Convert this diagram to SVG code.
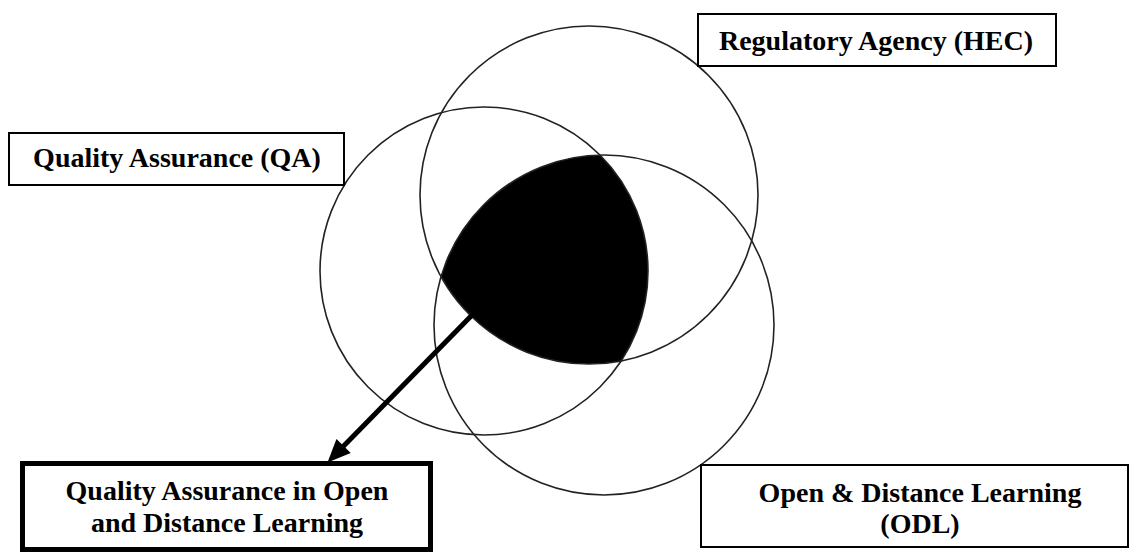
<svg xmlns="http://www.w3.org/2000/svg" width="1135" height="552" viewBox="0 0 1135 552">
<style>
.circ{fill:none;stroke:#222;stroke-width:1.6}
.box{fill:#fff;stroke:#000;stroke-width:2}
.boxb{fill:#fff;stroke:#000;stroke-width:5}
.lbl{font-family:"Liberation Serif","Times New Roman",serif;font-weight:bold;font-size:28px;fill:#000;text-anchor:middle}
.conn{stroke:#000;stroke-width:5;fill:none}
</style>
<defs>
<clipPath id="clipHEC"><circle cx="589" cy="195" r="169"/></clipPath>
<clipPath id="clipODL"><circle cx="604" cy="325" r="170"/></clipPath>
<marker id="arrow" markerUnits="userSpaceOnUse" markerWidth="26" markerHeight="22" refX="8" refY="10" orient="auto" overflow="visible">
<path d="M0,0 L23,10 L0,20 z" fill="#000"/>
</marker>
</defs>
<g id="intersection">
<g clip-path="url(#clipHEC)">
<circle cx="484" cy="271" r="164" fill="#000" clip-path="url(#clipODL)"/>
</g>
</g>
<g id="circles">
<circle id="circle-qa" class="circ" cx="484" cy="271" r="164"/>
<circle id="circle-hec" class="circ" cx="589" cy="195" r="169"/>
<circle id="circle-odl" class="circ" cx="604" cy="325" r="170"/>
</g>
<g id="connectors">
<line class="conn" x1="476" y1="311" x2="338" y2="451.8" marker-end="url(#arrow)"/>
</g>
<g id="node-hec">
<rect class="box" x="698" y="14" width="358" height="52"/>
<text class="lbl" x="876" y="50">Regulatory Agency (HEC)</text>
</g>
<g id="node-qa">
<rect class="box" x="9" y="133" width="335" height="52"/>
<text class="lbl" x="177" y="167">Quality Assurance (QA)</text>
</g>
<g id="node-qaodl">
<rect class="boxb" x="22.5" y="463.5" width="408" height="86"/>
<text class="lbl" x="227" y="500">Quality Assurance in Open</text>
<text class="lbl" x="227" y="532">and Distance Learning</text>
</g>
<g id="node-odl">
<rect class="box" x="701" y="465" width="427" height="82"/>
<text class="lbl" x="920" y="502">Open &amp; Distance Learning</text>
<text class="lbl" x="920" y="533">(ODL)</text>
</g>
</svg>
